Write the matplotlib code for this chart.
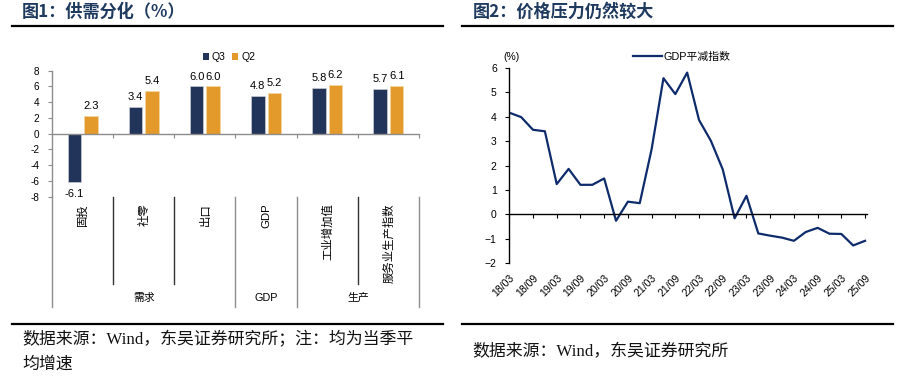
import numpy as np
import matplotlib
matplotlib.use("Agg")
import matplotlib.pyplot as plt
from matplotlib.lines import Line2D
from matplotlib.patches import Patch
from matplotlib.ticker import FuncFormatter

plt.rcParams['font.family'] = ['Liberation Sans', 'Noto Sans CJK SC', 'DejaVu Sans']

# ---------------- data ----------------
cats = ['固投', '社零', '出口', 'GDP', '工业增加值', '服务业生产指数']
q3 = [-6.1, 3.4, 6.0, 4.8, 5.8, 5.7]
q2 = [2.3, 5.4, 6.0, 5.2, 6.2, 6.1]
groups = ['需求', 'GDP', '生产']
group_sizes = [3, 1, 2]

quarters = ['18/03', '18/06', '18/09', '18/12', '19/03', '19/06', '19/09', '19/12',
            '20/03', '20/06', '20/09', '20/12', '21/03', '21/06', '21/09', '21/12',
            '22/03', '22/06', '22/09', '22/12', '23/03', '23/06', '23/09', '23/12',
            '24/03', '24/06', '24/09', '24/12', '25/03', '25/06', '25/09']
deflator = [4.16, 3.98, 3.46, 3.40, 1.24, 1.86, 1.21, 1.21, 1.47, -0.26, 0.52, 0.46,
            2.66, 5.57, 4.92, 5.80, 3.86, 3.01, 1.84, -0.16, 0.76, -0.78, -0.87, -0.95,
            -1.08, -0.72, -0.55, -0.79, -0.80, -1.27, -1.08]

W, H = 912, 381
fig = plt.figure(figsize=(W / 100, H / 100), dpi=100)

NAVY = '#22345A'
ORANGE = '#E39A2A'
TITLE_C = '#1F3A5F'
GRAY = '#8C8C8C'

# ---------------- decorations ----------------
def hline(x0, x1, y):
    fig.add_artist(Line2D([x0 / W, x1 / W], [1 - y / H, 1 - y / H],
                          transform=fig.transFigure, color='black', lw=1.6))

hline(12, 443, 25.5)
hline(462, 893, 25.5)
hline(12, 443, 323.5)
hline(462, 893, 323.5)

fig.text(22 / W, 1 - 12 / H, '图1：供需分化（%）', fontsize=12.3, fontweight='bold',
         color=TITLE_C, va='center', ha='left', family=['Noto Sans CJK SC'])
fig.text(473 / W, 1 - 12 / H, '图2：价格压力仍然较大', fontsize=12.3, fontweight='bold',
         color=TITLE_C, va='center', ha='left', family=['Noto Sans CJK SC'])

src_font = ['Liberation Serif', 'Noto Sans CJK SC']
fig.text(22 / W, 1 - 340 / H, '数据来源：Wind，东吴证券研究所；注：均为当季平',
         fontsize=12.2, va='center', ha='left', family=src_font, color='#111111')
fig.text(22 / W, 1 - 365 / H, '均增速',
         fontsize=12.2, va='center', ha='left', family=src_font, color='#111111')
fig.text(472 / W, 1 - 352 / H, '数据来源：Wind，东吴证券研究所',
         fontsize=12.2, va='center', ha='left', family=src_font, color='#111111')

# ---------------- left: bar chart ----------------
ax1 = fig.add_axes([52 / W, 1 - 196.7 / H, (419 - 52) / W, 126 / H])
x = np.arange(len(cats))
bw = 0.22
off = 0.135
b1 = ax1.bar(x - off, q3, bw, color=NAVY, edgecolor='#C9CCD3', linewidth=0.5, label='Q3')
b2 = ax1.bar(x + off, q2, bw, color=ORANGE, edgecolor='#F3D7A6', linewidth=0.5, label='Q2')
ax1.set_xlim(-0.5, len(cats) - 0.5)
ax1.set_ylim(-8, 8)
ax1.set_yticks(np.arange(-8, 9, 2))
ax1.yaxis.set_major_formatter(FuncFormatter(lambda v, p: f'{int(v)}'))
ax1.tick_params(axis='y', direction='out', length=3, width=0.8, color=GRAY,
                labelsize=7.2, pad=6)
for sp in ['top', 'right']:
    ax1.spines[sp].set_visible(False)
ax1.spines['left'].set_color(GRAY)
ax1.spines['left'].set_linewidth(1.0)
ax1.spines['bottom'].set_position(('data', 0))
ax1.spines['bottom'].set_color(GRAY)
ax1.spines['bottom'].set_linewidth(1.0)
bounds = np.arange(len(cats) + 1) - 0.5
ax1.set_xticks(bounds[1:])
ax1.set_xticklabels([''] * len(bounds[1:]))
ax1.tick_params(axis='x', direction='out', length=3, width=0.8, color=GRAY)

for bars, vals in ((b1, q3), (b2, q2)):
    for r, v in zip(bars, vals):
        cx = r.get_x() + r.get_width() / 2
        if v >= 0:
            ax1.annotate(f'{v:.1f}', (cx, v), xytext=(0, 3.5), textcoords='offset points',
                         ha='center', va='bottom', fontsize=8)
        else:
            ax1.annotate(f'{v:.1f}', (cx, v), xytext=(0, -5), textcoords='offset points',
                         ha='center', va='top', fontsize=8)

xt = ax1.get_xaxis_transform()
for i, c in enumerate(cats):
    ax1.text(i, -0.05, c, rotation=90, ha='center', va='top', fontsize=8.2,
             transform=xt, family=['Liberation Sans', 'Noto Sans CJK SC'])

# separators
group_edges = np.concatenate([[0], np.cumsum(group_sizes)]) - 0.5
for b in bounds:
    if b in group_edges:
        ax1.plot([b, b], [0, -0.875], transform=xt, clip_on=False, color=GRAY, lw=1.0)
    else:
        ax1.plot([b, b], [0, -0.693], transform=xt, clip_on=False, color='#333333', lw=1.0)
for g, s, e in zip(groups, group_edges[:-1], group_edges[1:]):
    ax1.text((s + e) / 2, -0.804, g, ha='center', va='center', fontsize=7.8,
             transform=xt, family=['Liberation Sans', 'Noto Sans CJK SC'])

leg_handles = [Patch(facecolor=NAVY, edgecolor='none', label='Q3'),
               Patch(facecolor=ORANGE, edgecolor='none', label='Q2')]
fig.legend(handles=leg_handles, loc='center', bbox_to_anchor=(229 / W, 1 - 57 / H),
           ncol=2, frameon=False, fontsize=7.5, handlelength=0.6, handleheight=0.6,
           handletextpad=0.3, columnspacing=0.6, borderpad=0)

# ---------------- right: line chart ----------------
ax2 = fig.add_axes([509.3 / W, 1 - 263.3 / H, (866.7 - 509.3) / W, (263.3 - 67.7) / H])
t = np.arange(len(quarters))
ax2.plot(t, deflator, color='#0E2C6B', lw=1.6, label='GDP平减指数')
ax2.set_xlim(0, len(quarters) - 1 + 0.14)
ax2.set_ylim(-2, 6)
ax2.set_yticks(np.arange(-2, 7, 1))
ax2.yaxis.set_major_formatter(FuncFormatter(lambda v, p: f'{int(v)}'.replace('-', '\u2212')))
ax2.tick_params(axis='y', direction='out', length=3, width=0.8, labelsize=7.5, pad=6)
for sp in ['top', 'right']:
    ax2.spines[sp].set_visible(False)
ax2.spines['left'].set_linewidth(1.0)
ax2.spines['bottom'].set_position(('data', 0))
ax2.spines['bottom'].set_linewidth(1.0)
tick_idx = t[::2]
ax2.set_xticks(tick_idx)
ax2.set_xticklabels([''] * len(tick_idx))
ax2.tick_params(axis='x', direction='out', length=3, width=0.8)

sec = ax2.secondary_xaxis(0)
sec.set_xticks(tick_idx)
sec.set_xticklabels([quarters[i] for i in tick_idx], rotation=45, ha='right',
                    rotation_mode='anchor', fontsize=7.6)
sec.tick_params(axis='x', length=0, pad=7)
sec.spines['bottom'].set_visible(False)

ax2.text(0.005, 1.055, '(%)', transform=ax2.transAxes, ha='center', va='center',
         fontsize=7.5)
ax2.legend(loc='center', bbox_to_anchor=(682 / W, 1 - 57 / H),
           bbox_transform=fig.transFigure, frameon=False,
           handlelength=2.6, handletextpad=0.2, borderpad=0,
           prop={'family': ['Liberation Sans', 'Noto Sans CJK SC'], 'size': 7.8})

fig.savefig('out.png', dpi=100)
